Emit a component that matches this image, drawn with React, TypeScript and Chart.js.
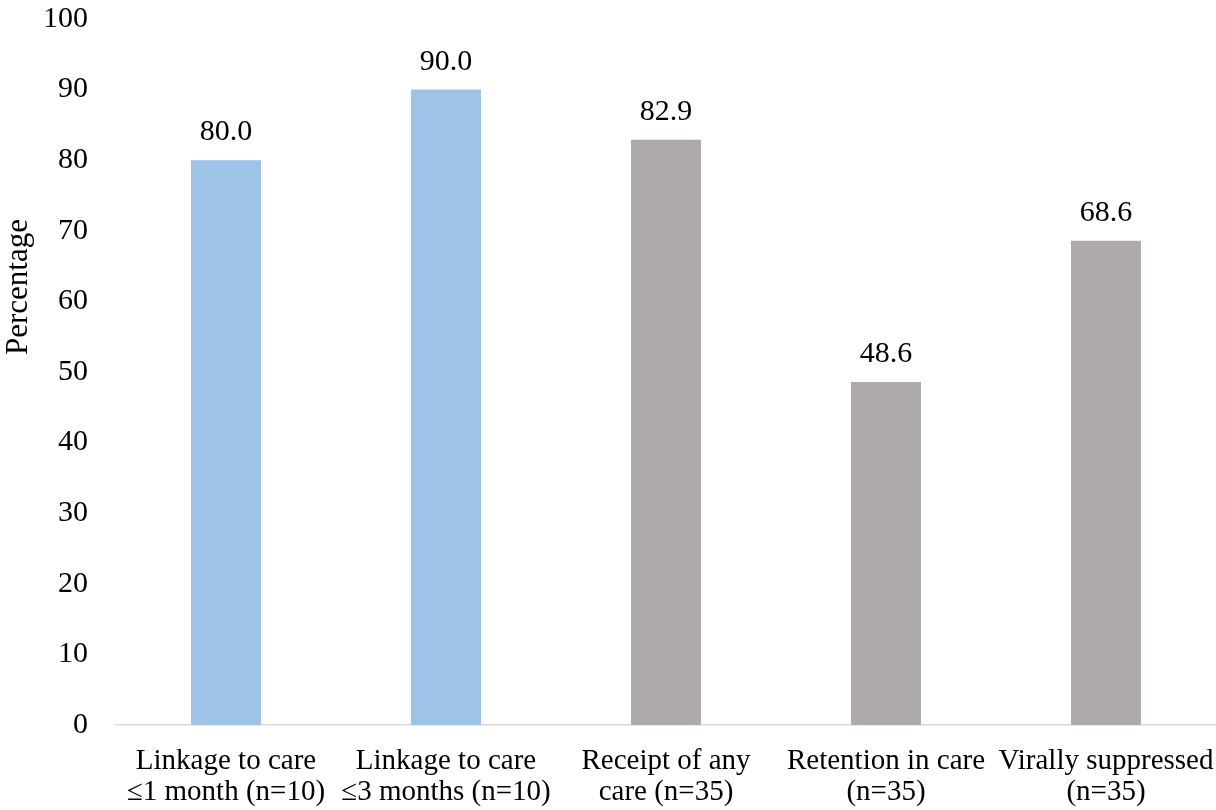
import React, { useEffect, useRef } from "react";
import { Chart, registerables } from "chart.js";

Chart.register(...registerables);

const categories: string[][] = [
  ["Linkage to care", "\u22641 month (n=10)"],
  ["Linkage to care", "\u22643 months (n=10)"],
  ["Receipt of any", "care (n=35)"],
  ["Retention in care", "(n=35)"],
  ["Virally suppressed", "(n=35)"],
];
const values: number[] = [80.0, 90.0, 82.9, 48.6, 68.6];
const barColors: string[] = ["#9DC3E6", "#9DC3E6", "#AEAAAA", "#AEAAAA", "#AEAAAA"];
const yTitle = "Percentage";
const yMin = 0;
const yMax = 100;
const yStep = 10;

const FONT = "'Liberation Serif', 'Times New Roman', serif";

const dataLabelPlugin = {
  id: "dataLabels",
  afterDatasetsDraw(chart: any) {
    const ctx = chart.ctx;
    const meta = chart.getDatasetMeta(0);
    ctx.save();
    ctx.font = `30px ${FONT}`;
    ctx.fillStyle = "#000000";
    ctx.textAlign = "center";
    ctx.textBaseline = "alphabetic";
    meta.data.forEach((bar: any, i: number) => {
      ctx.fillText(values[i].toFixed(1), bar.x, bar.y - 20);
    });
    ctx.restore();
  },
};

const yTitlePlugin = {
  id: "yTitle",
  afterDraw(chart: any) {
    const ctx = chart.ctx;
    ctx.save();
    ctx.font = `31px ${FONT}`;
    ctx.fillStyle = "#000000";
    ctx.textAlign = "center";
    ctx.textBaseline = "middle";
    ctx.translate(19, 287);
    ctx.rotate(-Math.PI / 2);
    ctx.fillText(yTitle, 0, 0);
    ctx.restore();
  },
};

export default function App() {
  const ref = useRef<HTMLCanvasElement | null>(null);
  useEffect(() => {
    if (!ref.current) return;
    const chart = new Chart(ref.current, {
      type: "bar",
      data: {
        labels: categories,
        datasets: [
          {
            data: values,
            backgroundColor: barColors,
            borderWidth: 0,
            barPercentage: 0.318,
            categoryPercentage: 1,
          },
        ],
      },
      options: {
        responsive: false,
        animation: false,
        devicePixelRatio: 1,
        layout: { padding: { top: 19, left: 0, right: 0, bottom: 0 } },
        plugins: {
          legend: { display: false },
          tooltip: { enabled: false },
        },
        scales: {
          x: {
            grid: { display: false, drawTicks: false },
            border: { display: true, color: "#D9D9D9", width: 1.5 },
            ticks: {
              autoSkip: false,
              maxRotation: 0,
              minRotation: 0,
              padding: 20,
              color: "#000000",
              font: { family: FONT, size: 29, lineHeight: 1.1 },
            },
            afterFit: (s: any) => {
              s.paddingLeft = 0;
              s.paddingRight = 0;
              s.height = 85;
            },
          },
          y: {
            min: yMin,
            max: yMax,
            grid: { display: false, drawTicks: false },
            border: { display: false },
            ticks: {
              stepSize: yStep,
              padding: 28,
              color: "#000000",
              font: { family: FONT, size: 30 },
            },
            afterFit: (s: any) => {
              s.width = 116;
              s.paddingTop = 0;
              s.paddingBottom = 0;
            },
          },
        },
      },
      plugins: [dataLabelPlugin, yTitlePlugin],
    });
    return () => chart.destroy();
  }, []);
  return (
    <div style={{ position: "absolute", left: 0, top: 0, width: 1216, height: 810, background: "#fff" }}>
      <canvas ref={ref} width={1216} height={810} style={{ display: "block", width: 1216, height: 810 }} />
    </div>
  );
}
